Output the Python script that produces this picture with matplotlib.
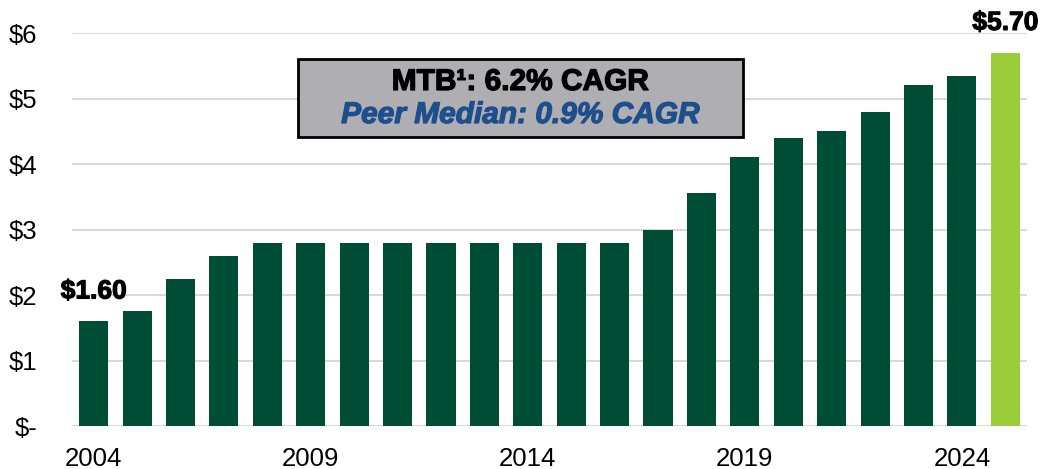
import numpy as np
import matplotlib
matplotlib.use("Agg")
import matplotlib.pyplot as plt
import matplotlib.patheffects as pe
from matplotlib.patches import Rectangle

plt.rcParams['font.family'] = ['Liberation Sans', 'DejaVu Sans']

# --- data ---
years = list(range(2004, 2026))
dividends = [1.60, 1.75, 2.25, 2.60, 2.80, 2.80, 2.80, 2.80, 2.80, 2.80, 2.80,
             2.80, 2.80, 3.00, 3.55, 4.10, 4.40, 4.50, 4.80, 5.20, 5.35, 5.70]
tick_years = [2004, 2009, 2014, 2019, 2024]
y_ticks = [0, 1, 2, 3, 4, 5, 6]
y_labels = ['$-', '$1', '$2', '$3', '$4', '$5', '$6']

dark_green = '#004D36'
light_green = '#9BCD3B'
colors = [dark_green] * (len(years) - 1) + [light_green]

W, H = 1045, 469
fig = plt.figure(figsize=(W / 100, H / 100), dpi=100)
ax = fig.add_axes([72 / W, 1 - 426 / H, (1027 - 72) / W, (426 - 33) / H])

x = np.arange(len(years))
ax.bar(x, dividends, width=0.67, color=colors, zorder=3)

ax.set_xlim(-0.5, len(years) - 0.5)
ax.set_ylim(0, 6)
ax.set_yticks(y_ticks)
ax.set_yticklabels(y_labels, fontsize=18.5)
ax.set_xticks([years.index(y) for y in tick_years])
ax.set_xticklabels([str(y) for y in tick_years], fontsize=18.5)
ax.tick_params(length=0)
ax.tick_params(axis='y', pad=25)
ax.tick_params(axis='x', pad=15)
ax.grid(axis='y', color='#D9D9D9', linewidth=1.5, zorder=0)
for s in ax.spines.values():
    s.set_visible(False)

# slightly heavier bold look
heavy = [pe.withStroke(linewidth=0.8, foreground='black')]

# end-point labels
ax.text(x[0], dividends[0] + 0.27, '$%.2f' % dividends[0], ha='center', va='bottom',
        fontsize=19, fontweight='bold', path_effects=heavy)
ax.text(x[-1], dividends[-1] + 0.27, '$%.2f' % dividends[-1], ha='center', va='bottom',
        fontsize=19, fontweight='bold', clip_on=False, path_effects=heavy)

# CAGR box
bx0, bx1, by0, by1 = 298, 743, 59, 137
fig.patches.append(Rectangle((bx0 / W, 1 - by1 / H), (bx1 - bx0) / W, (by1 - by0) / H,
                             transform=fig.transFigure, facecolor='#AEAEB3',
                             edgecolor='black', linewidth=2, zorder=5))
cx = (bx0 + bx1) / 2 / W
fig.text(cx, 1 - 82 / H, 'MTB\u00b9: 6.2% CAGR', ha='center', va='center',
         fontsize=21.5, fontweight='bold', color='black', zorder=6,
         path_effects=[pe.withStroke(linewidth=0.9, foreground='black')])
fig.text(cx, 1 - 115 / H, 'Peer Median: 0.9% CAGR', ha='center', va='center',
         fontsize=21.5, fontweight='bold', fontstyle='italic', color='#1F4E8C', zorder=6,
         path_effects=[pe.withStroke(linewidth=0.9, foreground='#1F4E8C')])

fig.savefig('out.png', dpi=100)
